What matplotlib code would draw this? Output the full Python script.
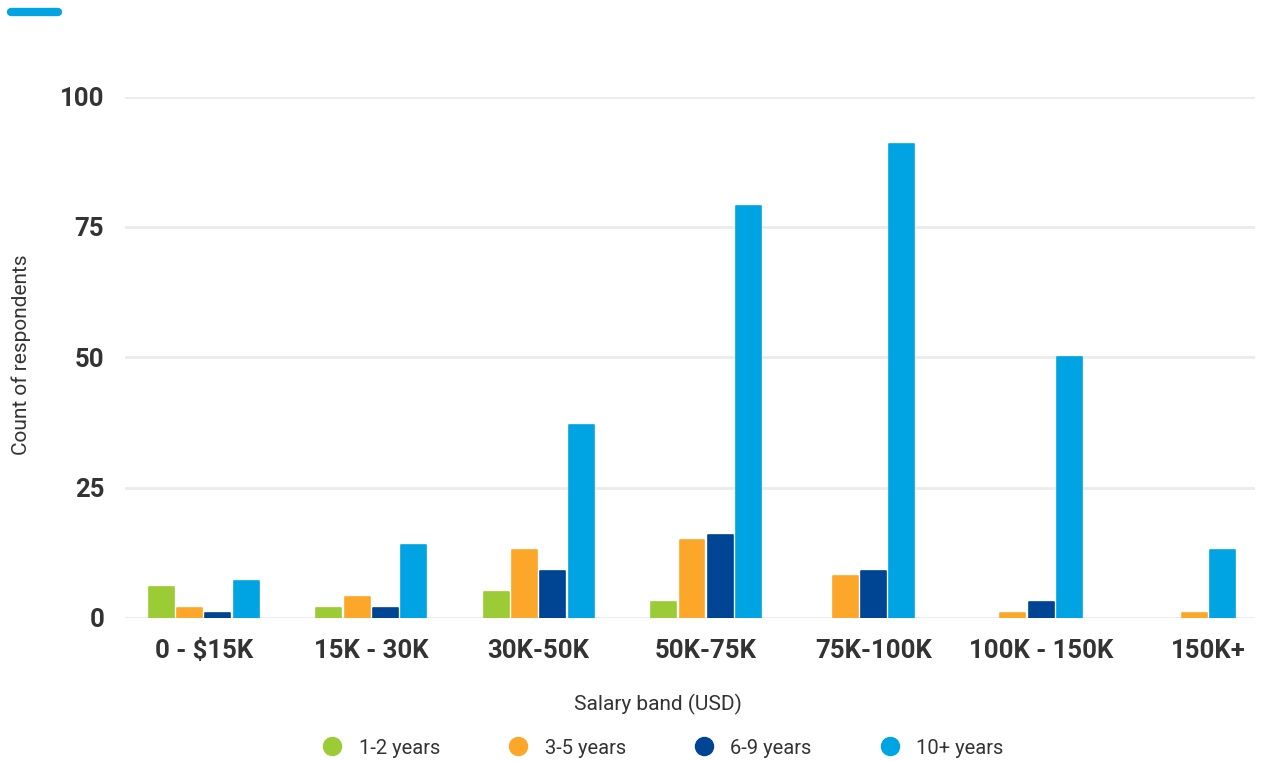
import numpy as np
import matplotlib
matplotlib.use("Agg")
import matplotlib.pyplot as plt
from matplotlib.lines import Line2D

plt.rcParams['font.family'] = ['Roboto', 'DejaVu Sans']

# Data
bands = ["0 - $15K", "15K - 30K", "30K-50K", "50K-75K", "75K-100K", "100K - 150K", "150K+"]
series_names = ["1-2 years", "3-5 years", "6-9 years", "10+ years"]
yrs_1_2 = [6, 2, 5, 3, 0, 0, 0]
yrs_3_5 = [2, 4, 13, 15, 8, 1, 1]
yrs_6_9 = [1, 2, 9, 16, 9, 3, 0]
yrs_10p = [7, 14, 37, 79, 91, 50, 13]
colors = ["#9bcc35", "#fda72a", "#004494", "#00a4e2"]

values = [yrs_1_2, yrs_3_5, yrs_6_9, yrs_10p]

fig = plt.figure(figsize=(12.63, 7.61), dpi=100)
ax = fig.add_axes([0.099, 0.188, 0.895, 0.685])

bar_w = 0.149
slot = 0.169
x = np.arange(len(bands))

# zero values are dropped and the remaining bars are centred in the band
for i in range(len(bands)):
    present = [s for s in range(len(values)) if values[s][i] > 0]
    n = len(present)
    for k, s in enumerate(present):
        pos = x[i] + (k - (n - 1) / 2) * slot
        ax.bar(pos, values[s][i], width=bar_w, color=colors[s],
               edgecolor=colors[s], linewidth=1.2, joinstyle='round', zorder=3)

ax.set_xlim(-0.47, 6.28)
ax.set_ylim(0, 100)
ax.set_yticks([0, 25, 50, 75, 100])
ax.set_xticks(x)
ax.set_xticklabels(bands)
ax.yaxis.grid(True, color="#ebebeb", linewidth=2, zorder=0)
ax.set_axisbelow(True)
for sp in ax.spines.values():
    sp.set_visible(False)
ax.tick_params(axis='both', length=0, labelsize=18.5, colors="#333333")
ax.tick_params(axis='y', pad=15)
ax.tick_params(axis='x', pad=15)
for lab in ax.get_xticklabels() + ax.get_yticklabels():
    lab.set_fontweight('bold')

fig.text(658 / 1263, 1 - 704 / 761, "Salary band (USD)", fontsize=15,
         color="#333333", ha='center', va='center')
fig.text(0.017, 1 - 355 / 761, "Count of respondents", rotation=90, fontsize=15,
         color="#333333", ha='center', va='center')

handles = [Line2D([0], [0], marker='o', linestyle='none', markersize=13,
                  markerfacecolor=c, markeredgecolor=c) for c in colors]
fig.legend(handles, series_names, loc='center', bbox_to_anchor=(0.521, 1 - 748 / 761),
           ncol=4, frameon=False, fontsize=14.5, labelcolor="#333333",
           handletextpad=0.3, columnspacing=2.9)

# blue pill at the top left
fig.add_artist(Line2D([11 / 1263, 58 / 1263], [1 - 12 / 761, 1 - 12 / 761],
                      color="#00a4e2", linewidth=6, solid_capstyle='round'))

fig.savefig("out.png", dpi=100)
